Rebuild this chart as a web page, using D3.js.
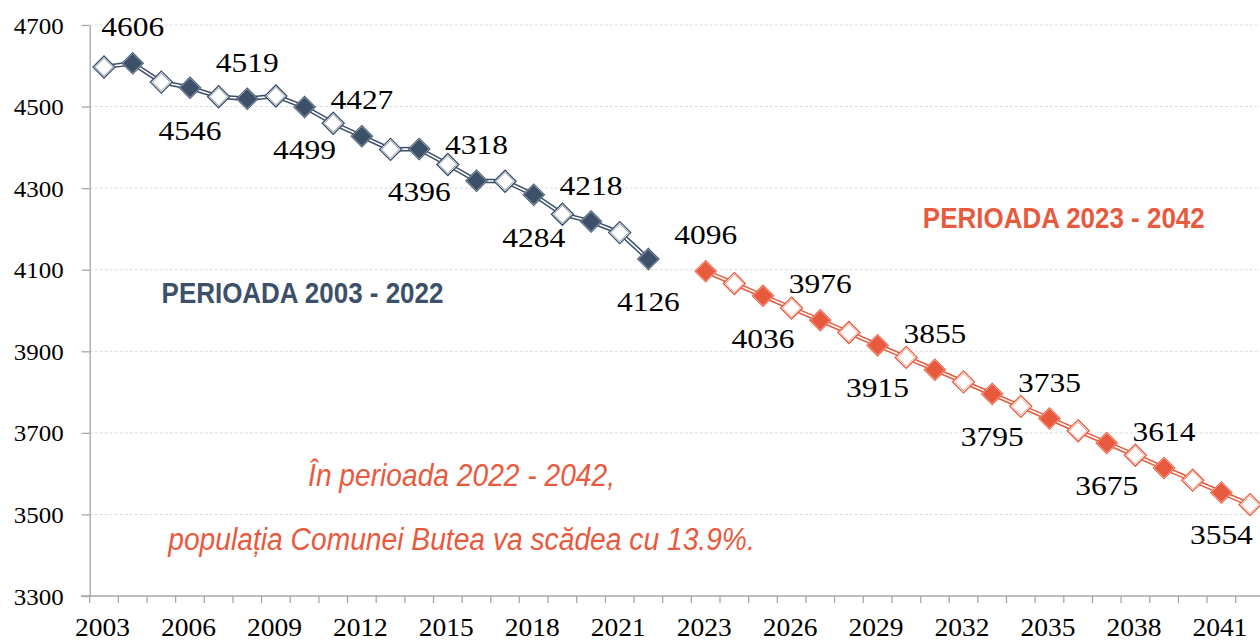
<!DOCTYPE html>
<html><head><meta charset="utf-8">
<script src="https://cdn.jsdelivr.net/npm/d3@7"></script>
<style>html,body{margin:0;padding:0;background:#fff;overflow:hidden}</style>
</head><body>
<svg id="chart" width="1260" height="641"></svg>
<script>
// ---------- data ----------
const years1 = [2003,2004,2005,2006,2007,2008,2009,2010,2011,2012,2013,2014,2015,2016,2017,2018,2019,2020,2021,2022];
const values1 = [4597,4606,4560,4546,4524,4519,4526,4499,4459,4427,4395,4396,4358,4318,4317,4284,4236,4218,4191,4126];
const years2 = [2023,2024,2025,2026,2027,2028,2029,2030,2031,2032,2033,2034,2035,2036,2037,2038,2039,2040,2041,2042];
const values2 = [4096,4066,4036,4006,3976,3946,3915,3885,3855,3825,3795,3765,3735,3705,3675,3645,3614,3584,3554,3524];
const categories = [...years1.map(String), "", ...years2.map(String)];
const yTicks = [3300,3500,3700,3900,4100,4300,4500,4700];
const title1 = "PERIOADA 2003 - 2022";
const title2 = "PERIOADA 2023 - 2042";
const note1 = "În perioada 2022 - 2042,";
const note2 = "populația Comunei Butea va scădea cu 13.9%.";

// ---------- setup ----------
const BLUE = "#3c5069", RED = "#e85a3e", AXIS = "#a6a6a6";
const svg = d3.select("#chart");
const left = 89.7, step = 28.65;
const x = d3.scaleBand().domain(d3.range(categories.length)).range([left, left + categories.length*step]).padding(0);
const y = d3.scaleLinear().domain([3300,4700]).range([596,25]);
const cx = i => x(i) + x.bandwidth()/2;

function fit(sel, target){
  sel.each(function(){
    const t = d3.select(this);
    const w = this.getComputedTextLength();
    const sx = target / w;
    const tx = +t.attr("data-x"), ty = +t.attr("data-y");
    t.attr("x", 0).attr("y", 0).attr("transform", `translate(${tx},${ty}) scale(${sx},1)`);
  });
}
function addText(parent, o){
  const t = parent.append("text")
    .attr("data-x", o.x).attr("data-y", o.y)
    .attr("x", o.x).attr("y", o.y)
    .attr("text-anchor", o.anchor || "middle")
    .style("font-family", o.family)
    .style("font-size", o.size + "px")
    .style("font-weight", o.weight || "normal")
    .style("font-style", o.style || "normal")
    .attr("fill", o.fill || "#000")
    .text(o.text);
  if (o.width) fit(t, o.width);
  return t;
}
const SERIF = "'Liberation Serif','Times New Roman',serif";
const SANS = "'Liberation Sans Narrow','Arial Narrow','Liberation Sans',Arial,sans-serif";

// ---------- gridlines ----------
svg.append("g").selectAll("line").data(yTicks.filter(v => v !== 3300)).join("line")
  .attr("x1", left).attr("x2", 1260)
  .attr("y1", d => y(d)).attr("y2", d => y(d))
  .attr("stroke", "#dcdcdc").attr("stroke-width", 1).attr("stroke-dasharray", "3,2");

// ---------- y axis ----------
const yAxis = svg.append("g").attr("transform", `translate(${left},0)`)
  .call(d3.axisLeft(y).tickValues(yTicks).tickSize(8).tickSizeOuter(0).tickFormat(d3.format("d")));
yAxis.select(".domain").attr("stroke", AXIS).attr("stroke-width", 1.3);
yAxis.selectAll(".tick line").attr("stroke", AXIS).attr("stroke-width", 1.3);
yAxis.selectAll(".tick text").each(function(){
  const t = d3.select(this);
  t.attr("data-x", -26).attr("data-y", 8).attr("dy", null).attr("text-anchor","end")
   .style("font-family", SERIF).style("font-size", "23px").attr("fill", "#000");
  fit(t, 50);
});

// ---------- x axis ----------
const xAxis = svg.append("g").attr("transform", `translate(0,596)`)
  .call(d3.axisBottom(x).tickValues(d3.range(categories.length).filter(i => i % 3 === 0))
    .tickFormat(i => categories[i]).tickSize(0).tickSizeOuter(0));
xAxis.select(".domain").remove();
svg.append("line").attr("x1", 81).attr("x2", 1260).attr("y1", 596).attr("y2", 596)
  .attr("stroke", AXIS).attr("stroke-width", 1.3);
const bounds = d3.range(categories.length + 1).map(i => left + i*x.step());
svg.append("g").selectAll("line").data(bounds).join("line")
  .attr("x1", d => d).attr("x2", d => d).attr("y1", 596).attr("y2", 603)
  .attr("stroke", AXIS).attr("stroke-width", 1.3);
xAxis.selectAll(".tick text").each(function(){
  const t = d3.select(this);
  t.attr("data-x", -1.5).attr("data-y", 39.5).attr("dy", null)
   .style("font-family", SERIF).style("font-size", "25px").attr("fill", "#000");
  fit(t, 55);
});

// ---------- series ----------
function diamond(r){ return `M0,${-r}L${r},0L0,${r}L${-r},0Z`; }
function drawSeries(years, values, offset, color, filledParity){
  const pts = values.map((v,i) => ({i: i + offset, v, year: years[i], filled: (years[i] % 2) === filledParity}));
  const line = d3.line().x(d => cx(d.i)).y(d => y(d.v));
  const g = svg.append("g");
  g.append("path").datum(pts).attr("d", line).attr("fill","none").attr("stroke", color).attr("stroke-width", 4.6);
  g.append("path").datum(pts).attr("d", line).attr("fill","none").attr("stroke", "#fff").attr("stroke-width", 1.6);
  const m = g.selectAll("g.m").data(pts).join("g").attr("class","m")
    .attr("transform", d => `translate(${cx(d.i)},${y(d.v)})`);
  m.filter(d => d.filled).each(function(){
    const s = d3.select(this);
    s.append("path").attr("d", diamond(11.5)).attr("fill", color);
    s.append("path").attr("d", diamond(10)).attr("fill", "none").attr("stroke", "rgba(255,255,255,0.5)").attr("stroke-width", 0.9);
  });
  m.filter(d => !d.filled).each(function(){
    const s = d3.select(this);
    s.append("path").attr("d", diamond(11)).attr("fill", "#fff").attr("stroke", color).attr("stroke-width", 1.3);
    s.append("path").attr("d", diamond(8.8)).attr("fill", "none").attr("stroke", color).attr("stroke-width", 1).attr("stroke-opacity", 0.55);
  });
  // labels on filled markers, alternating above / below
  const lab = pts.filter(d => d.filled);
  lab.forEach((d,k) => {
    addText(svg, {x: cx(d.i), y: y(d.v) + (k % 2 === 0 ? -27 : 52), text: String(d.v),
      family: SERIF, size: 28, width: 63});
  });
}
drawSeries(years1, values1, 0, BLUE, 0);
drawSeries(years2, values2, years1.length + 1, RED, 1);

// ---------- annotations ----------
addText(svg, {x: 302.5, y: 303.3, text: title1, family: SANS, size: 30, weight: "bold", fill: BLUE, width: 282});
addText(svg, {x: 1063.8, y: 228.3, text: title2, family: SANS, size: 30, weight: "bold", fill: RED, width: 282});
addText(svg, {x: 461.5, y: 486, text: note1, family: SANS, size: 31, style: "italic", fill: RED, width: 307});
addText(svg, {x: 461.5, y: 550, text: note2, family: SANS, size: 31, style: "italic", fill: RED, width: 587});
</script>
</body></html>
